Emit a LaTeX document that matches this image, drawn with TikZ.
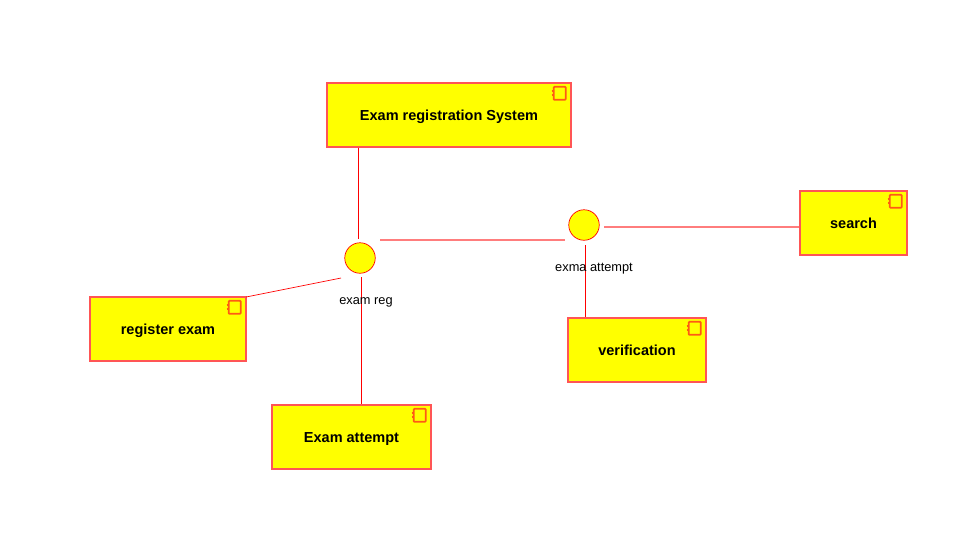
\documentclass[tikz,border=0pt]{standalone}
\usepackage{fontspec}
\setmainfont{Liberation Sans}
\definecolor{compred}{RGB}{255,85,85}
\definecolor{softred}{RGB}{255,125,125}
\definecolor{compyellow}{RGB}{255,255,0}
\definecolor{iconred}{RGB}{255,90,20}
\tikzset{
  x=1pt,y=-1pt,
  comp/.style={draw=compred,fill=compyellow,line width=1.4pt,inner sep=0pt,minimum height=64pt,text height=14.5pt,text depth=3pt,font=\bfseries\fontsize{14.5pt}{16pt}\selectfont,text=black},
  iface/.style={circle,draw=red,fill=compyellow,line width=0.7pt,minimum size=30.5pt,inner sep=0pt},
  link/.style={draw=red,line width=0.7pt},
  softlink/.style={draw=softred,line width=1.4pt},
  lbl/.style={font=\fontsize{12.8pt}{14pt}\selectfont,text=black,inner sep=0pt},
  icon/.style={draw=iconred,line width=1.7pt,fill=compyellow}
}
\newcommand{\compicon}[1]{%
  \draw[icon,rounded corners=0.8pt] ([shift={(-18,4.5)}]#1.north east) rectangle ([shift={(-6,17.5)}]#1.north east);
  \draw[icon,line width=2.2pt] ([shift={(-20,8.5)}]#1.north east) -- ([shift={(-18,8.5)}]#1.north east);
  \draw[icon,line width=2.2pt] ([shift={(-20,13)}]#1.north east) -- ([shift={(-18,13)}]#1.north east);
}
\begin{document}
\begin{tikzpicture}
\useasboundingbox (0,0) rectangle (979,542);
\fill[white] (0,0) rectangle (979,542);
% components
\node[comp,minimum width=244pt] (sys) at (449,115) {Exam registration System};
\node[comp,minimum width=156pt] (reg) at (168,329) {register exam};
\node[comp,minimum width=159pt] (att) at (351.5,437) {Exam attempt};
\node[comp,minimum width=138pt] (ver) at (637,350) {verification};
\node[comp,minimum width=107pt] (sea) at (853.5,223) {search};
\compicon{sys}\compicon{reg}\compicon{att}\compicon{ver}\compicon{sea}
% interfaces
\node[iface] (ireg) at (360,258) {};
\node[iface] (iatt) at (584,225) {};
% connector ends near the interfaces
\coordinate (a) at (358.5,239);
\coordinate (b) at (341,278);
\coordinate (c) at (361.5,277);
\coordinate (d) at (380,240);
\coordinate (e) at (565,240);
\coordinate (f) at (604,227);
\coordinate (g) at (585.5,245);
\coordinate (h) at (246,297);
% connectors
\draw[link] (sys.south -| a) -- (a);
\draw[link] (h) -- (b);
\draw[link] (c) -- (att.north -| c);
\draw[softlink] (d) -- (e);
\draw[softlink] (f) -- (sea.west |- f);
\draw[link] (g) -- (ver.north -| g);
\node[lbl] (lreg) at (366,302) {exam reg};
\node[lbl] (latt) at (594,269) {exma attempt};
\end{tikzpicture}
\end{document}
